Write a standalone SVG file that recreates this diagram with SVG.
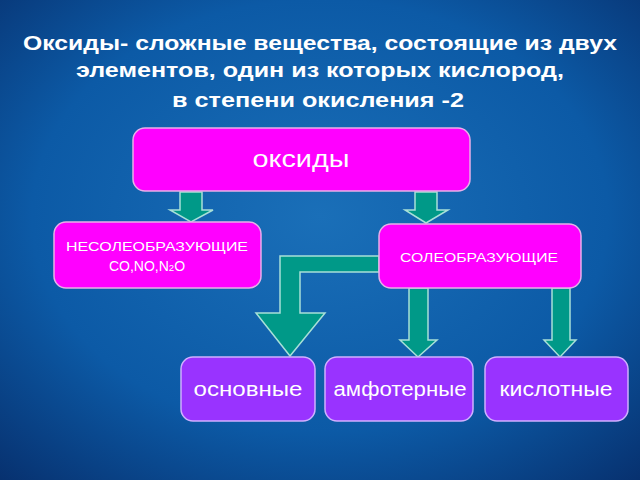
<svg xmlns="http://www.w3.org/2000/svg" width="640" height="480" viewBox="0 0 640 480">
<defs>
<radialGradient id="bg" cx="0.5" cy="0.45" r="0.75">
<stop offset="0" stop-color="#1a6fb8"/><stop offset="0.6" stop-color="#0c5aa6"/><stop offset="1" stop-color="#07306e"/>
</radialGradient>
<style>
.m{fill:#ff00ff;stroke:#e8b0e8;stroke-width:1.5}
.p{fill:#9933ff;stroke:#d0b0ff;stroke-width:1.5}
.a{fill:#009988;stroke:#a8e0d8;stroke-width:1.5}
text{font-family:"Liberation Sans",Arial,sans-serif;fill:#fff;text-anchor:middle}
</style>
</defs>
<rect width="640" height="480" fill="url(#bg)"/>
<g id="title" font-weight="bold" font-size="21" fill="#eeeeee">
<text x="320" y="50" textLength="594" lengthAdjust="spacingAndGlyphs">Оксиды- сложные вещества, состоящие из двух</text>
<text x="320" y="77" textLength="488" lengthAdjust="spacingAndGlyphs">элементов, один из которых кислород,</text>
<text x="318" y="107" textLength="292" lengthAdjust="spacingAndGlyphs">в степени окисления -2</text>
</g>
<g id="connectors">
<polygon class="a" points="180,192 202,192 202,210 213,210 191,222 170,210 180,210"/>
<polygon class="a" points="415,192 437,192 437,210 448,210 426,223 405,210 415,210"/>
<polygon class="a" points="379,256 379,272 300,272 300,313 325,313 290,356 256,313 280,313 280,256"/>
<polygon class="a" points="409,288 428,288 428,340 437,340 418,357 400,340 409,340"/>
<polygon class="a" points="552,288 570,288 570,340 576,340 560,357 544,340 552,340"/>
</g>
<g id="oxides"><rect class="m" x="133" y="128" width="337" height="63" rx="12"/><text x="301" y="167" font-size="23" textLength="97" lengthAdjust="spacingAndGlyphs">оксиды</text></g>
<g id="nonsalt"><rect class="m" x="54" y="222" width="207" height="66" rx="12"/><text x="157" y="251" font-size="13.5" textLength="182" lengthAdjust="spacingAndGlyphs">НЕСОЛЕОБРАЗУЮЩИЕ</text><text x="147" y="271" font-size="14">CO,NO,N<tspan font-size="9.5">2</tspan>O</text></g>
<g id="salt"><rect class="m" x="379" y="224" width="202" height="64" rx="12"/><text x="479" y="262" font-size="13.5" textLength="158" lengthAdjust="spacingAndGlyphs">СОЛЕОБРАЗУЮЩИЕ</text></g>
<g id="basic"><rect class="p" x="181" y="357" width="134" height="64" rx="12"/><text x="248" y="396" font-size="20" textLength="109" lengthAdjust="spacingAndGlyphs">основные</text></g>
<g id="amph"><rect class="p" x="325" y="357" width="148" height="64" rx="12"/><text x="400" y="396" font-size="20" textLength="133" lengthAdjust="spacingAndGlyphs">амфотерные</text></g>
<g id="acid"><rect class="p" x="485" y="357" width="143" height="64" rx="12"/><text x="556" y="396" font-size="20" textLength="113" lengthAdjust="spacingAndGlyphs">кислотные</text></g>
</svg>
